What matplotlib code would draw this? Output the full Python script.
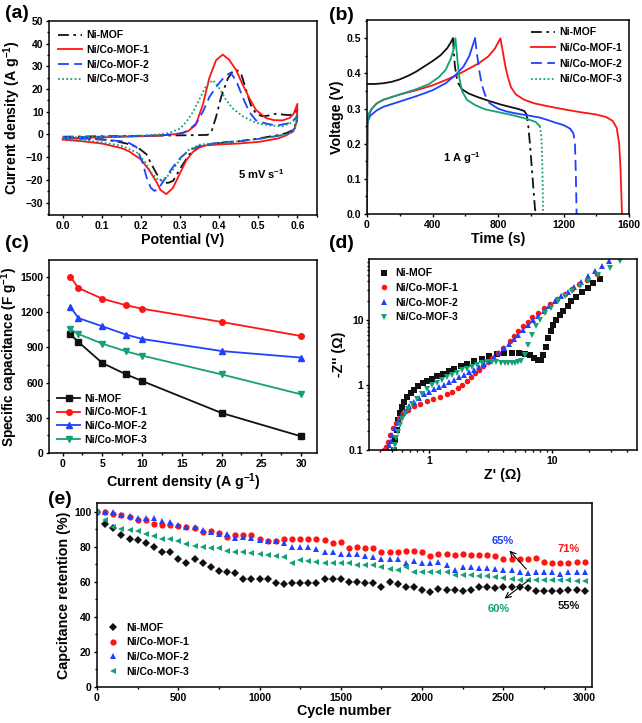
import matplotlib
matplotlib.use('Agg')
import matplotlib.pyplot as plt
from matplotlib.lines import Line2D
from matplotlib.ticker import MultipleLocator, LogLocator, NullFormatter, FixedLocator, FixedFormatter

plt.rcParams['font.family'] = ['Liberation Sans', 'DejaVu Sans']
plt.rcParams['font.weight'] = 'bold'
plt.rcParams['axes.labelweight'] = 'bold'
plt.rcParams['mathtext.fontset'] = 'custom'
plt.rcParams['mathtext.rm'] = 'Liberation Sans:bold'
plt.rcParams['mathtext.it'] = 'Liberation Sans:bold'
plt.rcParams['mathtext.bf'] = 'Liberation Sans:bold'
plt.rcParams['mathtext.default'] = 'rm'
plt.rcParams['axes.linewidth'] = 1.1

names = ['Ni-MOF', 'Ni/Co-MOF-1', 'Ni/Co-MOF-2', 'Ni/Co-MOF-3']
BLACK, RED, BLUE, GREEN = '#111111', '#ff1414', '#2040ff', '#14a078'
colors = [BLACK, RED, BLUE, GREEN]

# ---- (a) CV curves at 5 mV/s : potential (V), current density (A/g)
cv_E_ni = [0.0, 0.05, 0.1, 0.15, 0.2, 0.25, 0.3, 0.34, 0.37, 0.38, 0.392, 0.405, 0.422, 0.435, 0.443, 0.456,
           0.469, 0.481, 0.494, 0.51, 0.53, 0.547, 0.565, 0.58, 0.595, 0.6,
           0.598, 0.59, 0.57, 0.55, 0.5, 0.45, 0.4, 0.35, 0.324, 0.303, 0.282, 0.27, 0.26, 0.25, 0.24,
           0.225, 0.214, 0.19, 0.163, 0.13, 0.1, 0.05, 0.0]
cv_I_ni = [-1.0, -0.9, -0.8, -0.7, -0.6, -0.5, -0.4, -0.3, -0.2, 1.1, 7.7, 16.5, 24.6, 28.0, 28.6, 26.8,
           19.5, 12.9, 9.2, 8.0, 8.4, 9.2, 8.7, 8.5, 9.5, 12.0,
           6.0, 2.0, 0.5, -0.3, -1.8, -3.0, -3.8, -5.5, -8.7, -14.3, -20.5, -21.3, -21.3, -20.0, -17.3,
           -12.5, -8.7, -5.5, -4.0, -2.8, -2.2, -1.8, -1.5]
cv_E_1 = [0.0, 0.1, 0.2, 0.25, 0.3, 0.32, 0.34, 0.358, 0.375, 0.392, 0.409, 0.425, 0.443, 0.46, 0.477, 0.494,
          0.52, 0.54, 0.562, 0.58, 0.59, 0.6,
          0.597, 0.59, 0.57, 0.55, 0.5, 0.45, 0.4, 0.367, 0.35, 0.333, 0.316, 0.3, 0.282, 0.265, 0.25, 0.24,
          0.22, 0.2, 0.17, 0.15, 0.1, 0.05, 0.0]
cv_I_1 = [-1.8, -1.3, -0.8, -0.4, 0.3, 1.4, 4.2, 13.0, 25.0, 32.7, 35.2, 33.0, 28.5, 22.0, 16.0, 10.8,
          7.2, 6.3, 6.2, 7.3, 9.0, 13.5,
          5.0, 1.5, -0.5, -1.8, -3.3, -4.0, -4.4, -4.8, -5.5, -7.7, -11.4, -17.0, -23.5, -26.3, -24.5, -21.0,
          -15.5, -11.0, -7.5, -6.0, -4.0, -3.0, -2.3]
cv_E_2 = [0.0, 0.1, 0.2, 0.25, 0.28, 0.307, 0.324, 0.341, 0.358, 0.375, 0.392, 0.409, 0.418, 0.429, 0.443,
          0.46, 0.477, 0.494, 0.52, 0.547, 0.58, 0.6,
          0.597, 0.585, 0.57, 0.55, 0.5, 0.45, 0.4, 0.35, 0.324, 0.303, 0.282, 0.256, 0.245, 0.235, 0.225,
          0.214, 0.205, 0.188, 0.17, 0.15, 0.1, 0.05, 0.0]
cv_I_2 = [-1.2, -1.0, -0.7, -0.4, 0.0, 0.7, 2.2, 4.8, 9.9, 16.5, 20.9, 24.5, 26.0, 27.2, 23.9,
          16.5, 9.9, 6.2, 4.8, 3.9, 5.0, 7.7,
          3.5, 1.0, 0.0, -0.6, -2.0, -3.0, -3.5, -5.0, -7.0, -9.9, -14.3, -21.0, -23.8, -24.9, -23.5,
          -18.7, -12.8, -5.5, -3.8, -3.0, -2.2, -1.8, -1.5]
cv_E_3 = [0.0, 0.1, 0.2, 0.25, 0.273, 0.3, 0.316, 0.333, 0.35, 0.367, 0.384, 0.401, 0.418, 0.435, 0.46,
          0.494, 0.528, 0.562, 0.588, 0.6,
          0.597, 0.585, 0.57, 0.55, 0.5, 0.45, 0.4, 0.35, 0.32, 0.3, 0.28, 0.265, 0.252, 0.24, 0.225,
          0.21, 0.19, 0.15, 0.1, 0.05, 0.0]
cv_I_3 = [-1.3, -1.0, -0.5, 0.0, 0.7, 2.6, 5.5, 9.9, 15.7, 21.6, 23.9, 20.2, 15.1, 11.4, 8.0,
          5.1, 4.0, 3.6, 5.4, 9.0,
          4.0, 1.0, -0.2, -0.8, -2.0, -3.0, -3.8, -4.5, -7.0, -11.0, -16.0, -19.0, -20.2, -19.5, -16.5,
          -12.0, -8.0, -5.0, -3.5, -2.5, -2.0]

# ---- (b) GCD at 1 A/g : time (s), voltage (V)
gcd_t_ni = [0, 2, 50, 100, 150, 200, 250, 300, 350, 400, 450, 490, 510, 525, 530, 537, 547, 560, 580, 620,
            680, 750, 820, 880, 930, 960, 975, 985, 995, 1005, 1015, 1025, 1030]
gcd_v_ni = [0.37, 0.37, 0.37, 0.372, 0.376, 0.383, 0.393, 0.405, 0.42, 0.435, 0.452, 0.472, 0.487, 0.5,
            0.46, 0.42, 0.39, 0.37, 0.355, 0.343, 0.332, 0.321, 0.311, 0.304, 0.298, 0.293, 0.283,
            0.25, 0.2, 0.14, 0.08, 0.02, 0.0]
gcd_t_1 = [0, 3, 10, 30, 60, 100, 200, 300, 400, 500, 560, 620, 680, 740, 780, 815,
           830, 845, 860, 880, 910, 960, 1020, 1100, 1200, 1300, 1400, 1460, 1500, 1525, 1540, 1548, 1553, 1557]
gcd_v_1 = [0.0, 0.25, 0.28, 0.30, 0.315, 0.325, 0.34, 0.352, 0.366, 0.385, 0.398, 0.413, 0.428, 0.448, 0.47, 0.5,
           0.46, 0.42, 0.39, 0.36, 0.34, 0.325, 0.315, 0.307, 0.298, 0.29, 0.283, 0.276, 0.265, 0.245, 0.2,
           0.13, 0.06, 0.0]
gcd_t_2 = [0, 2, 20, 60, 100, 200, 300, 400, 480, 540, 590, 625, 660,
           670, 685, 700, 720, 750, 800, 850, 900, 950, 1000, 1050, 1100, 1150, 1200, 1240, 1260, 1270,
           1275, 1278, 1280]
gcd_v_2 = [0.0, 0.26, 0.28, 0.295, 0.305, 0.32, 0.335, 0.352, 0.372, 0.395, 0.42, 0.45, 0.5,
           0.46, 0.41, 0.37, 0.34, 0.315, 0.30, 0.292, 0.287, 0.283, 0.279, 0.275, 0.268, 0.26, 0.253,
           0.243, 0.23, 0.2, 0.12, 0.05, 0.0]
gcd_t_3 = [0, 3, 10, 30, 60, 100, 200, 300, 380, 440, 480, 510, 530, 540,
           548, 556, 565, 580, 610, 660, 720, 800, 900, 980, 1030, 1055, 1065, 1070, 1073, 1075]
gcd_v_3 = [0.0, 0.26, 0.285, 0.30, 0.315, 0.325, 0.34, 0.355, 0.37, 0.39, 0.41, 0.44, 0.47, 0.5,
           0.46, 0.42, 0.385, 0.35, 0.325, 0.31, 0.298, 0.29, 0.28, 0.27, 0.262, 0.25, 0.22, 0.15, 0.08, 0.0]

# ---- (c) specific capacitance vs current density
cur_density = [1, 2, 5, 8, 10, 20, 30]
cap_ni = [1011, 946, 767, 670, 614, 341, 142]
cap_1 = [1500, 1406, 1315, 1259, 1230, 1117, 997]
cap_2 = [1244, 1150, 1080, 1009, 972, 869, 813]
cap_3 = [1054, 1014, 932, 866, 830, 670, 500]

# ---- (d) Nyquist (log-log) : Z' , -Z''
zre_ni = [0.52, 0.533, 0.547, 0.564, 0.582, 0.604, 0.631, 0.667, 0.71, 0.76, 0.82, 0.889, 0.969, 1.064,
          1.169, 1.29, 1.44, 1.60, 1.81, 2.05, 2.33, 2.67, 3.06, 3.54, 4.08, 4.68, 5.37, 6.0, 6.59, 7.14,
          7.70, 8.14, 8.45, 8.83, 9.28, 9.75, 10.2, 10.8, 11.5, 12.3, 13.3, 14.3, 15.7, 17.5, 19.3, 21.5, 24.3]
zim_ni = [0.10, 0.143, 0.204, 0.29, 0.378, 0.468, 0.559, 0.652, 0.752, 0.857, 0.977, 1.08, 1.17, 1.27,
          1.38, 1.50, 1.64, 1.80, 1.97, 2.16, 2.36, 2.58, 2.82, 3.0, 3.1, 3.13, 3.13, 3.05, 2.88, 2.65,
          2.46, 2.46, 2.94, 3.96, 5.33, 6.92, 8.57, 10.2, 12.2, 14.1, 16.9, 19.7, 23.0, 27.4, 31.6, 37.3, 44.1]
zre_1 = [0.434, 0.448, 0.462, 0.483, 0.507, 0.537, 0.574, 0.619, 0.68, 0.755, 0.845, 0.957, 1.08, 1.23,
         1.39, 1.55, 1.71, 1.86, 2.02, 2.19, 2.36, 2.54, 2.76, 2.99, 3.26, 3.61, 4.0, 4.5, 4.92, 5.30,
         5.75, 6.31, 6.88, 7.61, 8.55, 9.57, 11.0, 12.7, 14.5, 16.4, 19.0, 23.2]
zim_1 = [0.1, 0.113, 0.135, 0.171, 0.216, 0.265, 0.316, 0.369, 0.42, 0.47, 0.52, 0.57, 0.62, 0.67,
         0.73, 0.80, 0.9, 1.02, 1.16, 1.33, 1.52, 1.72, 1.97, 2.25, 2.6, 3.1, 3.8, 4.8, 5.8, 6.9,
         8.2, 9.6, 11.3, 13.1, 15.5, 18.1, 21.6, 25.5, 30.5, 36.5, 42.6, 52.0]
zre_2 = [0.468, 0.477, 0.489, 0.504, 0.53, 0.557, 0.593, 0.639, 0.693, 0.76, 0.835, 0.917, 1.006, 1.10,
         1.21, 1.33, 1.46, 1.60, 1.76, 1.93, 2.12, 2.33, 2.56, 2.81, 3.08, 3.39, 3.72, 4.06, 4.45, 4.85,
         5.3, 5.8, 6.35, 7.0, 7.7, 8.5, 9.4, 10.5, 11.8, 13.3, 15.0, 17.1, 19.6, 22.2, 25.1, 29.0]
zim_2 = [0.1, 0.118, 0.14, 0.17, 0.22, 0.27, 0.33, 0.40, 0.48, 0.56, 0.64, 0.72, 0.79, 0.86,
         0.94, 1.02, 1.11, 1.21, 1.32, 1.44, 1.58, 1.74, 1.93, 2.14, 2.40, 2.75, 3.2, 3.7, 4.4, 5.1,
         6.0, 7.1, 8.4, 10.0, 11.8, 14.0, 16.5, 19.8, 23.5, 28.0, 33.3, 39.5, 47.9, 57.3, 68.4, 83.7]
zre_3 = [0.524, 0.53, 0.54, 0.557, 0.582, 0.608, 0.639, 0.68, 0.732, 0.794, 0.873, 0.957, 1.05, 1.15,
         1.27, 1.39, 1.53, 1.68, 1.84, 2.02, 2.22, 2.43, 2.67, 2.94, 3.22, 3.5, 3.8, 4.1, 4.4, 4.7,
         5.0, 5.3, 5.6, 6.0, 6.38, 6.8, 7.32, 7.94, 8.72, 9.75, 11.2, 12.7, 14.5, 16.8, 19.6, 23.6, 29.4, 35.4]
zim_3 = [0.1, 0.119, 0.151, 0.192, 0.244, 0.30, 0.36, 0.43, 0.52, 0.62, 0.74, 0.88, 1.0, 1.1,
         1.22, 1.33, 1.45, 1.57, 1.69, 1.81, 1.94, 2.06, 2.17, 2.25, 2.28, 2.26, 2.24, 2.22, 2.22, 2.22,
         2.24, 2.28, 2.4, 2.94, 4.2, 6.0, 8.08, 10.2, 13.0, 15.5, 19.7, 23.5, 28.1, 33.6, 40.1, 49.6, 64.4, 81.7]

# ---- (e) cycling stability
cycles = list(range(0, 3001, 50))
ret_ni = [100, 93.3, 90.5, 86.7, 84.2, 84.0, 82.1, 79.8, 77.1, 77.1,
          72.8, 70.9, 73.1, 70.7, 68.4, 66.1, 65.7, 64.8, 61.5, 61.5,
          61.5, 61.7, 59.4, 58.9, 59.4, 59.6, 59.4, 59.2, 61.5, 61.5,
          61.4, 59.8, 59.8, 59.5, 59.6, 57.1, 59.8, 58.9, 57.1, 57.1,
          55.2, 54.3, 56.2, 55.6, 55.6, 55.0, 55.2, 56.8, 57.3, 56.6,
          57.1, 57.1, 57.1, 56.5, 54.7, 55.0, 55.0, 55.0, 55.1, 55.3,
          55.0]
ret_1 = [100, 99.7, 98.9, 98.0, 97.0, 95.2, 95.1, 93.3, 92.7, 92.2,
         91.6, 91.1, 90.5, 88.4, 88.8, 88.0, 85.8, 86.6, 86.6, 86.8,
         84.3, 83.6, 83.6, 84.5, 84.5, 84.5, 84.7, 84.5, 84.0, 82.4,
         82.6, 79.4, 79.7, 79.5, 79.5, 77.0, 77.2, 77.2, 77.7, 77.7,
         77.0, 74.8, 75.8, 75.9, 75.2, 75.7, 75.1, 75.1, 75.1, 75.0,
         73.3, 73.2, 73.2, 73.2, 73.4, 71.6, 70.8, 70.8, 70.8, 71.6,
         71.1]
ret_2 = [100, 99.8, 99.6, 98.2, 97.5, 96.6, 96.6, 96.3, 94.5, 93.9,
         92.3, 91.3, 91.3, 89.8, 88.6, 87.2, 87.4, 84.9, 85.5, 84.8,
         83.9, 83.6, 83.6, 82.2, 79.7, 79.7, 79.7, 78.7, 77.3, 77.3,
         75.7, 75.8, 75.9, 74.6, 74.4, 73.2, 73.2, 73.2, 70.9, 71.9,
         70.7, 70.9, 71.6, 69.7, 66.8, 68.2, 68.2, 67.9, 67.8, 67.4,
         67.0, 67.0, 65.8, 65.3, 65.8, 65.8, 65.7, 64.5, 65.8, 65.8,
         65.8]
ret_3 = [100, 95.2, 91.4, 90.3, 89.5, 88.9, 87.5, 86.2, 84.6, 84.6,
         83.4, 81.5, 80.3, 79.9, 79.6, 79.4, 77.7, 77.3, 77.0, 76.4,
         75.7, 75.1, 74.6, 74.1, 70.6, 72.6, 72.1, 71.6, 70.8, 70.7,
         70.7, 70.7, 69.9, 69.9, 69.7, 68.2, 67.2, 66.8, 68.4, 65.8,
         65.8, 65.8, 65.8, 65.4, 64.1, 64.1, 64.1, 63.5, 63.1, 62.7,
         62.1, 61.6, 61.2, 61.2, 61.2, 60.9, 61.1, 60.8, 60.8, 60.5,
         60.3]

TICK = 7.5
LAB = 10.3
LEG = 7.5


def style_axes(ax):
    ax.tick_params(which='both', direction='out', top=False, right=False, labelsize=TICK, width=1, pad=1.5)
    ax.tick_params(which='major', length=2.5)
    ax.tick_params(which='minor', length=1.5)
    for lab in ax.get_xticklabels() + ax.get_yticklabels():
        lab.set_fontweight('bold')


fig = plt.figure(figsize=(6.42, 7.23), dpi=100)
W, H = 642.0, 723.0


def add_ax(l, r, t, b):
    return fig.add_axes([l / W, 1 - b / H, (r - l) / W, (b - t) / H])


# ===== (a)
ax = add_ax(49, 317, 21, 215)
ls_a = [(0, (6, 2.5, 1.5, 2.5)), '-', (0, (6, 3)), (0, (1, 1.3))]
cvs = [(cv_E_ni, cv_I_ni), (cv_E_1, cv_I_1), (cv_E_2, cv_I_2), (cv_E_3, cv_I_3)]
for (E, I), c, ls, n in zip(cvs, colors, ls_a, names):
    ax.plot(E, I, color=c, ls=ls, lw=1.3, label=n)
ax.set_xlim(-0.035, 0.65)
ax.set_ylim(-35.5, 50)
ax.xaxis.set_major_locator(MultipleLocator(0.1))
ax.xaxis.set_minor_locator(MultipleLocator(0.05))
ax.yaxis.set_major_locator(MultipleLocator(10))
ax.yaxis.set_minor_locator(MultipleLocator(5))
ax.xaxis.set_major_formatter(plt.FuncFormatter(lambda v, p: f'{v:.1f}'))
ax.set_xlabel('Potential (V)', fontsize=LAB, labelpad=2)
ax.set_ylabel('Current density (A g$^{-1}$)', fontsize=LAB, labelpad=2)
ax.text(0.447, -17.3, '5 mV s$^{-1}$', fontsize=8, va='center', ha='left')
ax.legend(loc='upper left', frameon=False, fontsize=LEG, handlelength=2.3, handletextpad=0.4,
          labelspacing=0.45, borderaxespad=0.5)
style_axes(ax)

# ===== (b)
ax = add_ax(367, 629, 20, 214)
gcds = [(gcd_t_ni, gcd_v_ni), (gcd_t_1, gcd_v_1), (gcd_t_2, gcd_v_2), (gcd_t_3, gcd_v_3)]
ls_b = [(0, (6, 2.5, 1.5, 2.5)), '-', (0, (6, 3)), (0, (1, 1.3))]
# parts of each curve drawn with the series line style (steep parts), the rest solid
styled = [[(13, 18), (25, 33)], [], [(12, 18), (27, 33)], [(25, 30)]]
solid = [[(0, 14), (17, 26)], [(0, 34)], [(0, 13), (17, 28)], [(0, 26)]]
for (t, v), c, ls, sty, sol in zip(gcds, colors, ls_b, styled, solid):
    for i0, i1 in sol:
        ax.plot(t[i0:i1], v[i0:i1], color=c, ls='-', lw=1.3)
    for i0, i1 in sty:
        ax.plot(t[i0:i1], v[i0:i1], color=c, ls=ls, lw=1.3)
handles = [Line2D([], [], color=c, ls=ls, lw=1.3) for c, ls in zip(colors, ls_b)]
ax.legend(handles, names, loc='upper right', frameon=False, fontsize=LEG, handlelength=2.3,
          handletextpad=0.4, labelspacing=0.55, borderaxespad=0.3)
ax.set_xlim(0, 1600)
ax.set_ylim(0, 0.552)
ax.xaxis.set_major_locator(MultipleLocator(400))
ax.xaxis.set_minor_locator(MultipleLocator(200))
ax.yaxis.set_major_locator(MultipleLocator(0.1))
ax.yaxis.set_minor_locator(MultipleLocator(0.05))
ax.yaxis.set_major_formatter(plt.FuncFormatter(lambda v, p: f'{v:.1f}'))
ax.set_xlabel('Time (s)', fontsize=LAB, labelpad=2)
ax.set_ylabel('Voltage (V)', fontsize=LAB, labelpad=2)
ax.text(580, 0.16, '1 A g$^{-1}$', fontsize=8, ha='center', va='center')
style_axes(ax)

# ===== (c)
ax = add_ax(49, 317, 260, 453)
mk_c = ['s', 'o', '^', 'v']
caps = [cap_ni, cap_1, cap_2, cap_3]
for y, c, m, n in zip(caps, colors, mk_c, names):
    ax.plot(cur_density, y, color=c, marker=m, ms=4, lw=1.3, label=n)
ax.set_xlim(-1.7, 32)
ax.set_ylim(0, 1645)
ax.xaxis.set_major_locator(MultipleLocator(5))
ax.xaxis.set_minor_locator(MultipleLocator(2.5))
ax.yaxis.set_major_locator(MultipleLocator(300))
ax.yaxis.set_minor_locator(MultipleLocator(150))
ax.set_xlabel('Current density (A g$^{-1}$)', fontsize=LAB, labelpad=2)
ax.set_ylabel('Specific capacitance (F g$^{-1}$)', fontsize=9.8, labelpad=0)
ax.legend(loc='lower left', frameon=False, fontsize=LEG, handlelength=2.2, handletextpad=0.4,
          labelspacing=0.35, borderaxespad=0.4)
style_axes(ax)

# ===== (d)
ax = add_ax(369, 637, 259, 450)
mk_d = ['s', 'o', '^', 'v']
zs = [(zre_ni, zim_ni), (zre_1, zim_1), (zre_2, zim_2), (zre_3, zim_3)]
for (x, y), c, m, n in zip(zs, colors, mk_d, names):
    ax.plot(x, y, ls='none', color=c, marker=m, ms=4, mew=0, label=n)
ax.set_xscale('log')
ax.set_yscale('log')
ax.set_xlim(0.326, 48.6)
ax.set_ylim(0.1, 89)
ax.xaxis.set_major_locator(FixedLocator([1, 10]))
ax.xaxis.set_major_formatter(FixedFormatter(['1', '10']))
ax.xaxis.set_minor_locator(LogLocator(base=10, subs=range(2, 10)))
ax.xaxis.set_minor_formatter(NullFormatter())
ax.yaxis.set_major_locator(FixedLocator([0.1, 1, 10]))
ax.yaxis.set_major_formatter(FixedFormatter(['0.1', '1', '10']))
ax.yaxis.set_minor_locator(LogLocator(base=10, subs=range(2, 10)))
ax.yaxis.set_minor_formatter(NullFormatter())
ax.set_xlabel("Z' (Ω)", fontsize=LAB, labelpad=2)
ax.set_ylabel("-Z'' (Ω)", fontsize=LAB, labelpad=2)
ax.legend(loc='upper left', frameon=False, fontsize=LEG, handlelength=1.0, handletextpad=0.6,
          labelspacing=0.45, borderaxespad=0.5)
style_axes(ax)

# ===== (e)
ax = add_ax(97, 592, 503, 687)
mk_e = ['D', 'o', '^', '<']
rets = [ret_ni, ret_1, ret_2, ret_3]
ms_e = [4, 4.5, 4.5, 4.5]
for y, c, m, s, n in zip(rets, colors, mk_e, ms_e, names):
    ax.plot(cycles, y, ls='none', color=c, marker=m, ms=s, mew=0, label=n)
ax.set_xlim(0, 3045)
ax.set_ylim(0, 105)
ax.xaxis.set_major_locator(MultipleLocator(500))
ax.xaxis.set_minor_locator(MultipleLocator(250))
ax.yaxis.set_major_locator(MultipleLocator(20))
ax.yaxis.set_minor_locator(MultipleLocator(10))
ax.set_xlabel('Cycle number', fontsize=LAB, labelpad=1)
ax.set_ylabel('Capcitance retention (%)', fontsize=LAB, labelpad=2)
ax.legend(loc='lower left', frameon=False, fontsize=LEG, handlelength=1.0, handletextpad=0.8,
          labelspacing=0.45, borderaxespad=0.6)
ax.text(2497, 83.2, '65%', color=BLUE, fontsize=8, ha='center', va='center')
ax.text(2903, 78.5, '71%', color=RED, fontsize=8, ha='center', va='center')
ax.text(2472, 44.7, '60%', color=GREEN, fontsize=8, ha='center', va='center')
ax.text(2903, 46.5, '55%', color=BLACK, fontsize=8, ha='center', va='center')
ax.annotate('', xy=(2526, 79.0), xytext=(2652, 66.1),
            arrowprops=dict(arrowstyle='->', color='black', lw=0.8))
ax.annotate('', xy=(2493, 49.5), xytext=(2669, 61.9),
            arrowprops=dict(arrowstyle='->', color='black', lw=0.8))
style_axes(ax)

# panel labels
for lab, (px, py) in zip(['(a)', '(b)', '(c)', '(d)', '(e)'],
                         [(17, 13), (341, 15), (17, 243), (341, 243), (60, 500)]):
    fig.text(px / W, 1 - py / H, lab, fontsize=14, ha='center', va='center')

fig.savefig('out.png', dpi=100)
plt.close(fig)
